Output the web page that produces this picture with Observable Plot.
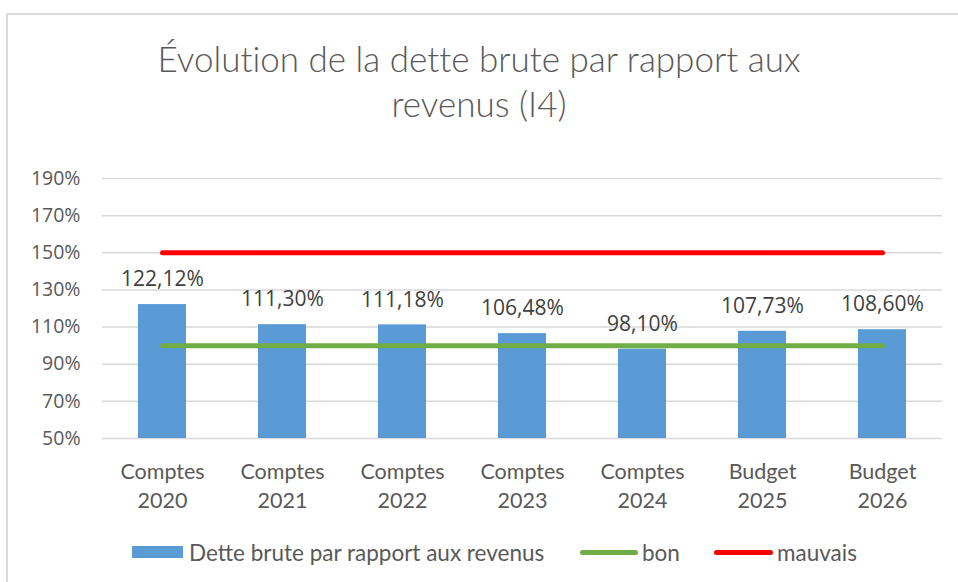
<!DOCTYPE html>
<html><head><meta charset="utf-8">
<script src="https://cdn.jsdelivr.net/npm/d3@7"></script>
<script src="https://cdn.jsdelivr.net/npm/@observablehq/plot@0.6"></script>
<style>
html,body{margin:0;padding:0;background:#fff;}
#page{position:relative;width:958px;height:582px;overflow:hidden;}
#frame{position:absolute;left:6px;top:13px;width:1000px;height:600px;border:2px solid #d9d9d9;box-sizing:border-box;}
#title{position:absolute;left:0;top:36px;width:958px;text-align:center;font-family:Lato,sans-serif;font-weight:300;font-size:35px;line-height:45px;color:#595959;font-variant-ligatures:none;}
#chart{position:absolute;left:0;top:150px;}
#legend{position:absolute;left:0;top:539px;width:958px;height:26px;font-family:Lato,sans-serif;font-size:22.5px;color:#595959;}
.li{position:absolute;top:0;display:flex;align-items:center;height:26px;white-space:nowrap;}
.sw{display:inline-block;margin-right:4px;}
</style></head>
<body><div id="page"><div id="frame"></div>
<div id="title">Évolution de la dette brute par rapport aux<br>revenus (I4)</div>
<div id="chart"></div>
<div id="legend"></div>
</div>
<script>
const categories = ["Comptes 2020","Comptes 2021","Comptes 2022","Comptes 2023","Comptes 2024","Budget 2025","Budget 2026"];
const dette = [122.12, 111.30, 111.18, 106.48, 98.10, 107.73, 108.60];
const bon = [100,100,100,100,100,100,100];
const mauvais = [150,150,150,150,150,150,150];
const yTicks = [50,70,90,110,130,150,170,190];
const seriesNames = ["Dette brute par rapport aux revenus","bon","mauvais"];
const colors = {dette:"#5B9BD5", bon:"#70AD47", mauvais:"#FF0000"};

const rows = categories.map((c,i)=>({c, dette:dette[i], bon:bon[i], mauvais:mauvais[i]}));
const fmt = v => v.toFixed(2).replace(".", ",") + "%";

const plot = Plot.plot({
  width: 958, height: 370,
  marginLeft: 102, marginRight: 16, marginTop: 28, marginBottom: 82,
  x: {domain: categories, paddingInner: 0.6, paddingOuter: 0.3, label: null},
  y: {domain: [50,190], label: null},
  style: {background: "transparent"},
  marks: [
    Plot.gridY(yTicks, {stroke: "#d9d9d9", strokeOpacity: 1, strokeWidth: 1.5}),
    Plot.axisY(yTicks, {tickSize: 0, tickPadding: 22, tickFormat: d => d + "%", fontSize: 19.5, fill: "#595959", fontFamily: "Open Sans", label: null}),
    Plot.axisX({tickSize: 0, tickPadding: 20, tickFormat: d => d.replace(" ", "\n"), fontSize: 21.5, lineHeight: 1.35, fill: "#595959", fontFamily: "Lato", label: null}),
    Plot.barY(rows, {x: "c", y1: 50, y2: "dette", fill: colors.dette}),
    Plot.lineY(rows, {x: "c", y: "bon", stroke: colors.bon, strokeWidth: 5, strokeLinecap: "round"}),
    Plot.lineY(rows, {x: "c", y: "mauvais", stroke: colors.mauvais, strokeWidth: 5, strokeLinecap: "round"}),
    Plot.text(rows, {x: "c", y: "dette", text: d => fmt(d.dette), dy: -25, fontSize: 21, fill: "#404040", fontFamily: "Open Sans"})
  ]
});
document.getElementById("chart").appendChild(plot);

// legend
const lg = document.getElementById("legend");
const items = [
  {name: seriesNames[0], left: 132, sw: `<span class="sw" style="width:51px;height:12px;margin-right:6px;background:${colors.dette}"></span>`},
  {name: seriesNames[1], left: 580, sw: `<span class="sw" style="width:58px;height:5px;border-radius:3px;background:${colors.bon}"></span>`},
  {name: seriesNames[2], left: 714, sw: `<span class="sw" style="width:59px;height:5px;border-radius:3px;background:${colors.mauvais}"></span>`}
];
for (const it of items) {
  const d = document.createElement("div");
  d.className = "li";
  d.style.left = it.left + "px";
  d.innerHTML = it.sw + `<span>${it.name}</span>`;
  lg.appendChild(d);
}
</script></body></html>
